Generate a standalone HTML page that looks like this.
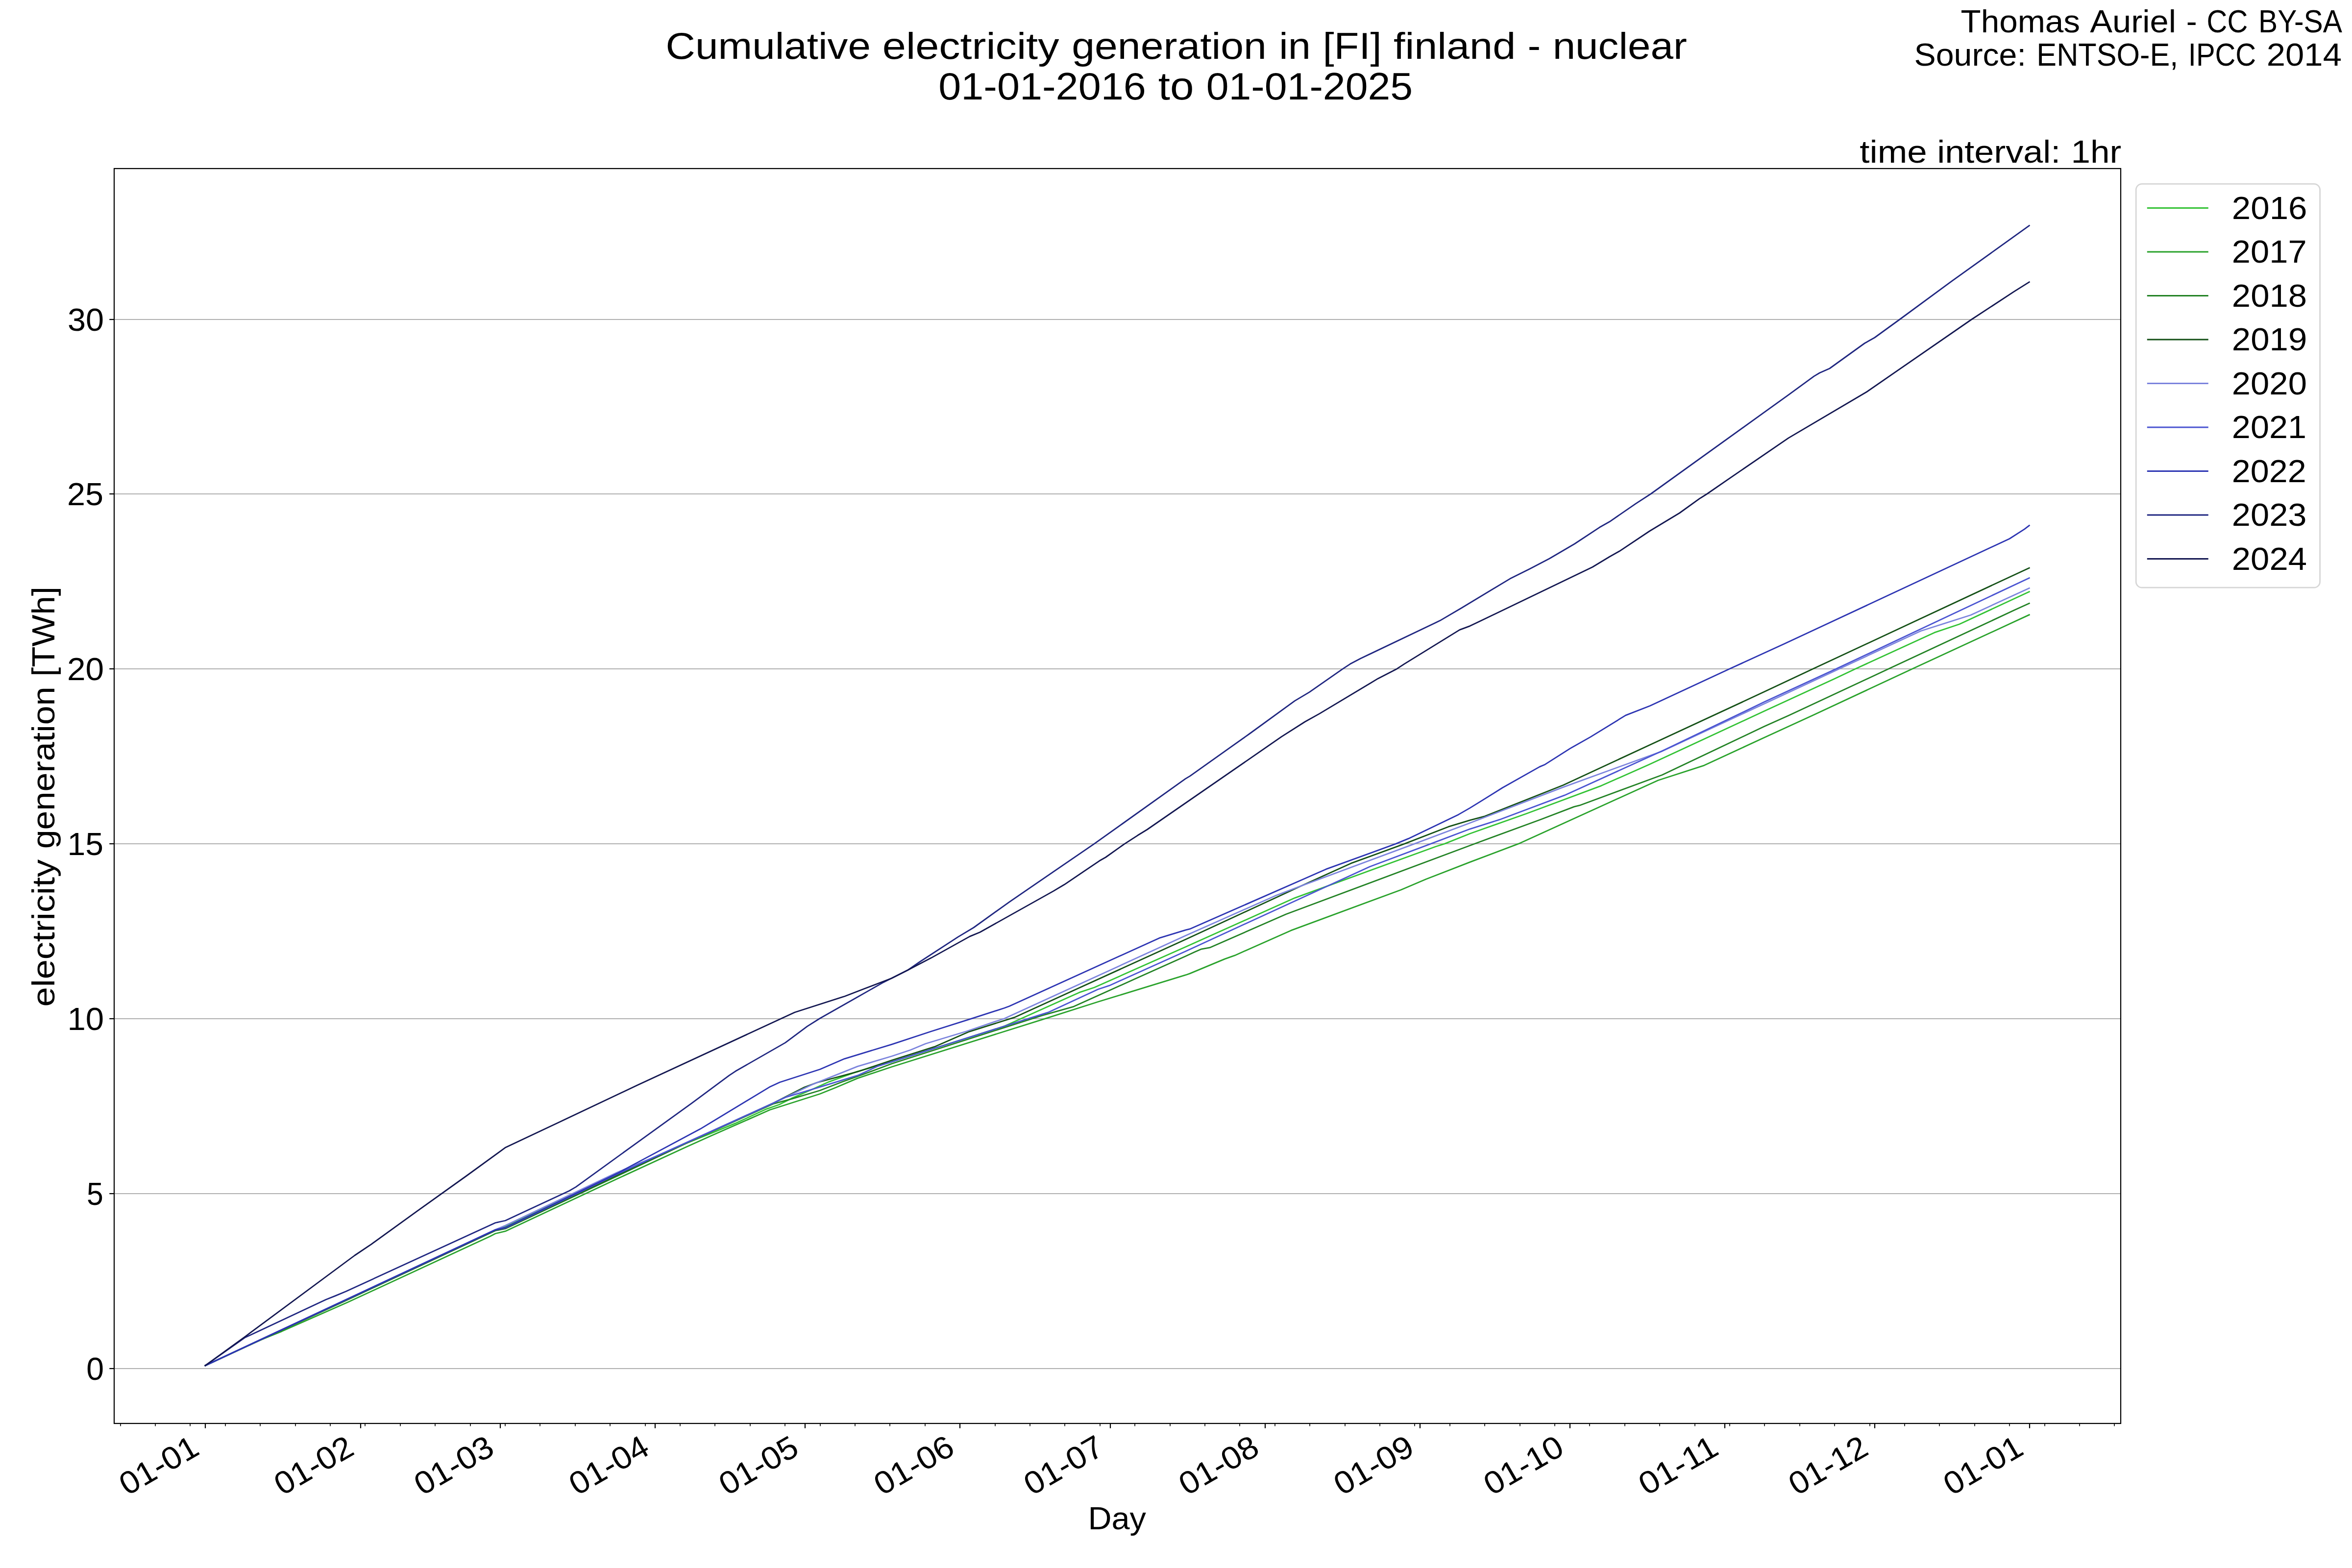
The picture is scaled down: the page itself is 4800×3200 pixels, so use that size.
<!DOCTYPE html>
<html><head><meta charset="utf-8"><title>Cumulative electricity generation in [FI] finland - nuclear</title>
<style>
html,body{margin:0;padding:0;background:#fff;}
body{width:4800px;height:3200px;}
svg{display:block;}
text{font-family:"Liberation Sans",sans-serif;fill:#000;}
</style></head><body>
<svg width="4800" height="3200" viewBox="0 0 4800 3200">
<rect x="0" y="0" width="4800" height="3200" fill="#ffffff"/>
<g stroke="#b0b0b0" stroke-width="2.22" fill="none">
<line x1="233.0" y1="2793.00" x2="4328.0" y2="2793.00"/>
<line x1="233.0" y1="2436.00" x2="4328.0" y2="2436.00"/>
<line x1="233.0" y1="2079.00" x2="4328.0" y2="2079.00"/>
<line x1="233.0" y1="1722.00" x2="4328.0" y2="1722.00"/>
<line x1="233.0" y1="1365.00" x2="4328.0" y2="1365.00"/>
<line x1="233.0" y1="1008.00" x2="4328.0" y2="1008.00"/>
<line x1="233.0" y1="652.00" x2="4328.0" y2="652.00"/>
</g>
<defs><clipPath id="axclip"><rect x="233.0" y="344.0" width="4095.0" height="2561.0"/></clipPath></defs>
<g fill="none" stroke-width="2.78" stroke-linejoin="round" stroke-linecap="square" clip-path="url(#axclip)">
<polyline stroke="#32c234" points="418.9,2786.8 1011.0,2511.0 1031.4,2503.5 1260.0,2394.3 1400.0,2333.5 1450.0,2313.5 1501.0,2292.4 1564.8,2263.1 1590.3,2254.2 1615.8,2241.4 1654.1,2224.8 1692.3,2207.6 1750.0,2186.6 1820.0,2167.0 2049.6,2094.3 2202.7,2025.4 2233.3,2015.2 2420.0,1932.3 2642.3,1832.6 2708.7,1808.4 2930.6,1727.5 2948.5,1721.9 3000.0,1701.2 3115.8,1660.2 3267.8,1603.6 3364.5,1560.8 3600.0,1451.6 3743.9,1385.3 3787.2,1364.8 3948.0,1290.9 3999.0,1273.8 4141.3,1207.6"/>
<polyline stroke="#29a22b" points="418.9,2786.8 530.0,2735.2 575.0,2717.1 710.0,2657.5 1000.0,2523.2 1011.0,2517.5 1031.4,2512.7 1260.0,2405.5 1400.0,2341.1 1450.0,2318.6 1571.2,2265.0 1673.2,2232.5 1705.1,2219.7 1750.0,2200.6 1820.0,2177.2 2133.8,2078.7 2240.9,2044.5 2420.0,1989.7 2428.1,1986.9 2499.5,1957.1 2519.9,1949.9 2634.7,1898.9 2859.2,1816.0 2910.2,1794.3 3000.0,1759.4 3099.2,1721.9 3383.9,1592.5 3477.8,1562.1 3600.0,1505.5 3699.2,1460.0 3903.3,1364.8 4141.3,1254.7"/>
<polyline stroke="#228224" points="418.9,2786.8 540.0,2730.9 700.0,2657.0 1011.0,2511.5 1031.4,2507.4 1260.0,2400.0 1400.0,2333.4 1577.6,2252.9 1615.8,2242.7 1673.2,2225.5 1717.9,2208.3 1750.0,2196.8 1820.0,2170.8 2126.1,2072.6 2189.9,2054.7 2317.4,1997.3 2420.0,1951.2 2438.3,1942.8 2451.0,1937.2 2468.9,1933.9 2624.5,1865.8 3000.0,1725.5 3143.5,1672.7 3212.5,1646.4 3223.6,1643.7 3392.2,1581.5 3600.0,1482.8 3650.8,1460.0 3854.8,1364.8 4111.2,1245.1 4141.3,1231.3"/>
<polyline stroke="#145016" points="418.9,2786.8 1011.0,2510.8 1031.4,2506.8 1260.0,2397.5 1400.0,2332.5 1577.6,2251.6 1641.3,2219.1 1666.8,2209.5 1750.0,2187.2 1820.0,2163.9 1906.7,2136.4 1978.2,2105.3 2070.0,2076.4 2420.0,1917.0 2657.7,1807.1 2757.1,1761.9 2866.8,1721.9 2956.1,1687.2 3000.0,1673.9 3030.1,1665.8 3190.4,1602.2 3600.0,1412.1 3700.5,1364.8 4141.3,1159.0"/>
<polyline stroke="#7b83dd" points="418.9,2786.8 1011.0,2509.5 1031.4,2501.0 1260.0,2392.5 1330.0,2363.5 1400.0,2332.3 1577.6,2251.6 1660.5,2212.1 1750.0,2176.4 1820.0,2155.5 1858.3,2142.8 1888.9,2130.0 1973.1,2104.5 2029.2,2085.4 2049.6,2078.7 2420.0,1909.3 2604.1,1827.5 2657.7,1807.1 2887.2,1721.9 3000.0,1679.5 3190.4,1606.4 3392.2,1533.1 3600.0,1436.4 3754.1,1364.8 3919.9,1287.8 4021.9,1255.2 4141.3,1200.3"/>
<polyline stroke="#4a54d1" points="418.9,2786.8 1011.0,2510.1 1031.4,2506.0 1260.0,2396.0 1400.0,2332.3 1577.6,2251.6 1603.0,2239.5 1666.8,2220.4 1750.0,2194.9 1792.2,2175.6 1820.0,2167.0 2126.1,2070.1 2138.9,2066.2 2240.9,2019.0 2263.9,2011.4 2420.0,1941.2 2708.7,1808.4 2795.4,1768.8 2920.4,1721.9 3000.0,1691.8 3060.5,1672.7 3193.2,1622.9 3392.2,1532.6 3600.0,1432.8 3747.7,1364.8 4141.3,1179.5"/>
<polyline stroke="#2c34b2" points="418.9,2786.8 1011.0,2509.8 1031.4,2505.2 1260.0,2394.6 1291.2,2377.6 1429.0,2304.1 1570.3,2218.6 1591.3,2208.7 1673.6,2182.3 1723.3,2160.8 1820.0,2131.3 1900.0,2105.0 1983.3,2078.7 2049.6,2057.3 2059.8,2053.5 2365.9,1914.4 2420.0,1897.9 2428.1,1895.9 2662.8,1793.1 2706.1,1773.9 2849.0,1721.9 2874.5,1711.4 2976.5,1662.4 3000.0,1648.9 3021.9,1635.4 3066.1,1607.7 3142.1,1564.9 3153.1,1560.2 3204.2,1527.6 3245.7,1504.1 3317.6,1459.9 3367.3,1440.5 3530.3,1364.8 3641.8,1313.8 4101.0,1099.5 4131.6,1079.9 4141.3,1072.5"/>
<polyline stroke="#1f2680" points="418.9,2786.8 499.3,2730.1 512.2,2724.0 665.1,2652.3 684.2,2644.6 706.1,2635.5 1011.0,2495.5 1031.4,2491.0 1053.8,2480.5 1161.8,2430.2 1175.3,2422.4 1300.0,2332.1 1411.5,2251.6 1488.0,2194.9 1500.8,2186.3 1602.8,2127.9 1647.4,2094.7 1673.0,2078.5 1800.5,2006.1 1853.2,1979.5 1877.0,1963.0 1955.2,1912.1 1987.1,1893.0 2060.5,1840.3 2232.7,1722.3 2290.1,1681.5 2419.2,1589.4 2428.8,1583.6 2550.0,1497.5 2642.3,1430.4 2672.1,1412.6 2740.6,1364.9 2755.5,1355.1 2776.4,1344.0 2938.7,1266.6 2981.9,1241.3 3081.7,1181.1 3121.9,1160.9 3162.1,1140.0 3213.3,1110.0 3264.3,1076.3 3284.7,1064.8 3338.3,1027.9 3368.9,1008.0 3598.5,842.9 3650.0,805.9 3702.0,767.9 3713.5,761.0 3733.9,752.0 3805.4,700.5 3825.8,689.0 3876.8,652.0 3982.7,574.2 4141.3,460.4"/>
<polyline stroke="#121650" points="418.9,2786.8 502.0,2726.5 724.0,2562.0 757.0,2539.8 850.0,2472.7 952.3,2399.5 1031.8,2341.7 1150.0,2286.1 1300.0,2215.0 1594.8,2078.5 1621.9,2066.0 1724.0,2033.2 1765.4,2017.3 1819.6,1996.5 1853.2,1979.5 1900.0,1955.1 1979.1,1911.1 1999.9,1902.5 2149.7,1818.6 2172.1,1805.3 2243.8,1756.8 2256.6,1749.5 2294.8,1722.3 2321.9,1704.8 2341.1,1693.0 2615.5,1503.4 2663.2,1473.0 2693.0,1456.4 2812.1,1384.9 2850.9,1364.9 2865.8,1355.1 2978.9,1285.4 2999.8,1277.6 3250.0,1157.3 3284.7,1136.3 3305.1,1124.8 3366.3,1084.0 3427.6,1047.0 3468.4,1017.7 3483.7,1008.0 3527.0,978.1 3650.0,893.9 3809.2,800.0 4023.5,652.0 4110.2,595.2 4141.3,575.6"/>
</g>
<g stroke="#000" fill="none">
<line x1="419.00" y1="2905.0" x2="419.00" y2="2914.72" stroke-width="2.22"/>
<line x1="736.00" y1="2905.0" x2="736.00" y2="2914.72" stroke-width="2.22"/>
<line x1="1021.00" y1="2905.0" x2="1021.00" y2="2914.72" stroke-width="2.22"/>
<line x1="1337.00" y1="2905.0" x2="1337.00" y2="2914.72" stroke-width="2.22"/>
<line x1="1643.00" y1="2905.0" x2="1643.00" y2="2914.72" stroke-width="2.22"/>
<line x1="1959.00" y1="2905.0" x2="1959.00" y2="2914.72" stroke-width="2.22"/>
<line x1="2266.00" y1="2905.0" x2="2266.00" y2="2914.72" stroke-width="2.22"/>
<line x1="2582.00" y1="2905.0" x2="2582.00" y2="2914.72" stroke-width="2.22"/>
<line x1="2898.00" y1="2905.0" x2="2898.00" y2="2914.72" stroke-width="2.22"/>
<line x1="3204.00" y1="2905.0" x2="3204.00" y2="2914.72" stroke-width="2.22"/>
<line x1="3520.00" y1="2905.0" x2="3520.00" y2="2914.72" stroke-width="2.22"/>
<line x1="3826.00" y1="2905.0" x2="3826.00" y2="2914.72" stroke-width="2.22"/>
<line x1="4142.00" y1="2905.0" x2="4142.00" y2="2914.72" stroke-width="2.22"/>
<line x1="246.00" y1="2905.0" x2="246.00" y2="2910.56" stroke-width="1.67"/>
<line x1="317.00" y1="2905.0" x2="317.00" y2="2910.56" stroke-width="1.67"/>
<line x1="388.00" y1="2905.0" x2="388.00" y2="2910.56" stroke-width="1.67"/>
<line x1="460.00" y1="2905.0" x2="460.00" y2="2910.56" stroke-width="1.67"/>
<line x1="531.00" y1="2905.0" x2="531.00" y2="2910.56" stroke-width="1.67"/>
<line x1="603.00" y1="2905.0" x2="603.00" y2="2910.56" stroke-width="1.67"/>
<line x1="674.00" y1="2905.0" x2="674.00" y2="2910.56" stroke-width="1.67"/>
<line x1="745.00" y1="2905.0" x2="745.00" y2="2910.56" stroke-width="1.67"/>
<line x1="817.00" y1="2905.0" x2="817.00" y2="2910.56" stroke-width="1.67"/>
<line x1="888.00" y1="2905.0" x2="888.00" y2="2910.56" stroke-width="1.67"/>
<line x1="960.00" y1="2905.0" x2="960.00" y2="2910.56" stroke-width="1.67"/>
<line x1="1031.00" y1="2905.0" x2="1031.00" y2="2910.56" stroke-width="1.67"/>
<line x1="1102.00" y1="2905.0" x2="1102.00" y2="2910.56" stroke-width="1.67"/>
<line x1="1174.00" y1="2905.0" x2="1174.00" y2="2910.56" stroke-width="1.67"/>
<line x1="1245.00" y1="2905.0" x2="1245.00" y2="2910.56" stroke-width="1.67"/>
<line x1="1317.00" y1="2905.0" x2="1317.00" y2="2910.56" stroke-width="1.67"/>
<line x1="1388.00" y1="2905.0" x2="1388.00" y2="2910.56" stroke-width="1.67"/>
<line x1="1459.00" y1="2905.0" x2="1459.00" y2="2910.56" stroke-width="1.67"/>
<line x1="1531.00" y1="2905.0" x2="1531.00" y2="2910.56" stroke-width="1.67"/>
<line x1="1602.00" y1="2905.0" x2="1602.00" y2="2910.56" stroke-width="1.67"/>
<line x1="1674.00" y1="2905.0" x2="1674.00" y2="2910.56" stroke-width="1.67"/>
<line x1="1745.00" y1="2905.0" x2="1745.00" y2="2910.56" stroke-width="1.67"/>
<line x1="1816.00" y1="2905.0" x2="1816.00" y2="2910.56" stroke-width="1.67"/>
<line x1="1888.00" y1="2905.0" x2="1888.00" y2="2910.56" stroke-width="1.67"/>
<line x1="1959.00" y1="2905.0" x2="1959.00" y2="2910.56" stroke-width="1.67"/>
<line x1="2031.00" y1="2905.0" x2="2031.00" y2="2910.56" stroke-width="1.67"/>
<line x1="2102.00" y1="2905.0" x2="2102.00" y2="2910.56" stroke-width="1.67"/>
<line x1="2173.00" y1="2905.0" x2="2173.00" y2="2910.56" stroke-width="1.67"/>
<line x1="2245.00" y1="2905.0" x2="2245.00" y2="2910.56" stroke-width="1.67"/>
<line x1="2316.00" y1="2905.0" x2="2316.00" y2="2910.56" stroke-width="1.67"/>
<line x1="2388.00" y1="2905.0" x2="2388.00" y2="2910.56" stroke-width="1.67"/>
<line x1="2459.00" y1="2905.0" x2="2459.00" y2="2910.56" stroke-width="1.67"/>
<line x1="2530.00" y1="2905.0" x2="2530.00" y2="2910.56" stroke-width="1.67"/>
<line x1="2602.00" y1="2905.0" x2="2602.00" y2="2910.56" stroke-width="1.67"/>
<line x1="2673.00" y1="2905.0" x2="2673.00" y2="2910.56" stroke-width="1.67"/>
<line x1="2745.00" y1="2905.0" x2="2745.00" y2="2910.56" stroke-width="1.67"/>
<line x1="2816.00" y1="2905.0" x2="2816.00" y2="2910.56" stroke-width="1.67"/>
<line x1="2887.00" y1="2905.0" x2="2887.00" y2="2910.56" stroke-width="1.67"/>
<line x1="2959.00" y1="2905.0" x2="2959.00" y2="2910.56" stroke-width="1.67"/>
<line x1="3030.00" y1="2905.0" x2="3030.00" y2="2910.56" stroke-width="1.67"/>
<line x1="3102.00" y1="2905.0" x2="3102.00" y2="2910.56" stroke-width="1.67"/>
<line x1="3173.00" y1="2905.0" x2="3173.00" y2="2910.56" stroke-width="1.67"/>
<line x1="3244.00" y1="2905.0" x2="3244.00" y2="2910.56" stroke-width="1.67"/>
<line x1="3316.00" y1="2905.0" x2="3316.00" y2="2910.56" stroke-width="1.67"/>
<line x1="3387.00" y1="2905.0" x2="3387.00" y2="2910.56" stroke-width="1.67"/>
<line x1="3459.00" y1="2905.0" x2="3459.00" y2="2910.56" stroke-width="1.67"/>
<line x1="3530.00" y1="2905.0" x2="3530.00" y2="2910.56" stroke-width="1.67"/>
<line x1="3601.00" y1="2905.0" x2="3601.00" y2="2910.56" stroke-width="1.67"/>
<line x1="3673.00" y1="2905.0" x2="3673.00" y2="2910.56" stroke-width="1.67"/>
<line x1="3744.00" y1="2905.0" x2="3744.00" y2="2910.56" stroke-width="1.67"/>
<line x1="3816.00" y1="2905.0" x2="3816.00" y2="2910.56" stroke-width="1.67"/>
<line x1="3887.00" y1="2905.0" x2="3887.00" y2="2910.56" stroke-width="1.67"/>
<line x1="3958.00" y1="2905.0" x2="3958.00" y2="2910.56" stroke-width="1.67"/>
<line x1="4030.00" y1="2905.0" x2="4030.00" y2="2910.56" stroke-width="1.67"/>
<line x1="4101.00" y1="2905.0" x2="4101.00" y2="2910.56" stroke-width="1.67"/>
<line x1="4173.00" y1="2905.0" x2="4173.00" y2="2910.56" stroke-width="1.67"/>
<line x1="4244.00" y1="2905.0" x2="4244.00" y2="2910.56" stroke-width="1.67"/>
<line x1="4315.00" y1="2905.0" x2="4315.00" y2="2910.56" stroke-width="1.67"/>
<line x1="223.28" y1="2793.00" x2="233.0" y2="2793.00" stroke-width="2.22"/>
<line x1="223.28" y1="2436.00" x2="233.0" y2="2436.00" stroke-width="2.22"/>
<line x1="223.28" y1="2079.00" x2="233.0" y2="2079.00" stroke-width="2.22"/>
<line x1="223.28" y1="1722.00" x2="233.0" y2="1722.00" stroke-width="2.22"/>
<line x1="223.28" y1="1365.00" x2="233.0" y2="1365.00" stroke-width="2.22"/>
<line x1="223.28" y1="1008.00" x2="233.0" y2="1008.00" stroke-width="2.22"/>
<line x1="223.28" y1="652.00" x2="233.0" y2="652.00" stroke-width="2.22"/>
</g>
<rect x="233.0" y="344.0" width="4095.0" height="2561.0" fill="none" stroke="#000" stroke-width="2.22" stroke-linejoin="miter"/>
<text transform="translate(174.72,2816.00) translate(1.46,0) scale(1.0543,1.0630)" font-size="61.111">0</text>
<text transform="translate(174.72,2459.00) translate(2.28,0) scale(0.9937,1.0596)" font-size="61.111">5</text>
<text transform="translate(135.84,2102.00) translate(1.56,0) scale(1.0992,1.0630)" font-size="61.111">10</text>
<text transform="translate(135.84,1745.00) translate(1.64,0) scale(1.0814,1.0596)" font-size="61.111">15</text>
<text transform="translate(135.84,1388.00) translate(1.08,0) scale(1.1064,1.0630)" font-size="61.111">20</text>
<text transform="translate(135.84,1031.00) translate(1.13,0) scale(1.0891,1.0630)" font-size="61.111">25</text>
<text transform="translate(135.84,675.00) translate(2.11,0) scale(1.0907,1.0630)" font-size="61.111">30</text>
<text transform="translate(258.72,3053.79) rotate(-30) translate(1.32,0) scale(1.1130,1.0630)" font-size="61.111">01-01</text>
<text transform="translate(574.92,3053.79) rotate(-30) translate(1.32,0) scale(1.1110,1.0630)" font-size="61.111">01-02</text>
<text transform="translate(860.52,3053.79) rotate(-30) translate(1.31,0) scale(1.1160,1.0630)" font-size="61.111">01-03</text>
<text transform="translate(1176.72,3053.79) rotate(-30) translate(1.30,0) scale(1.1193,1.0630)" font-size="61.111">01-04</text>
<text transform="translate(1482.72,3053.79) rotate(-30) translate(1.32,0) scale(1.1118,1.0630)" font-size="61.111">01-05</text>
<text transform="translate(1798.92,3053.79) rotate(-30) translate(1.30,0) scale(1.1228,1.0630)" font-size="61.111">01-06</text>
<text transform="translate(2104.92,3053.79) rotate(-30) translate(1.31,0) scale(1.1167,1.0630)" font-size="61.111">01-07</text>
<text transform="translate(2421.12,3053.79) rotate(-30) translate(1.30,0) scale(1.1204,1.0630)" font-size="61.111">01-08</text>
<text transform="translate(2737.32,3053.79) rotate(-30) translate(1.30,0) scale(1.1214,1.0630)" font-size="61.111">01-09</text>
<text transform="translate(3043.32,3053.79) rotate(-30) translate(1.31,0) scale(1.1190,1.0630)" font-size="61.111">01-10</text>
<text transform="translate(3359.52,3053.79) rotate(-30) translate(1.24,0) scale(1.1473,1.0630)" font-size="61.111">01-11</text>
<text transform="translate(3665.52,3053.79) rotate(-30) translate(1.32,0) scale(1.1110,1.0630)" font-size="61.111">01-12</text>
<text transform="translate(3981.72,3053.79) rotate(-30) translate(1.32,0) scale(1.1130,1.0630)" font-size="61.111">01-01</text>
<text transform="translate(2219.90,3121.30) translate(0.53,0) scale(1.0903,1.0596)" font-size="61.111">Day</text>
<text transform="translate(111.00,2054.75) rotate(-90) translate(0.33,0) scale(1.1799,1.0483)" font-size="61.111">electricity</text>
<text transform="translate(111.00,2054.75) rotate(-90) translate(322.39,0) scale(1.1470,1.0483)" font-size="61.111">generation</text>
<text transform="translate(111.00,2054.75) rotate(-90) translate(674.05,0) scale(1.1263,1.0483)" font-size="61.111">[TWh]</text>
<text transform="translate(1358.60,120.00) translate(-0.08,0) scale(1.1408,1.0483)" font-size="73.333">Cumulative</text>
<text transform="translate(1358.60,120.00) translate(442.26,0) scale(1.1799,1.0483)" font-size="73.333">electricity</text>
<text transform="translate(1358.60,120.00) translate(828.72,0) scale(1.1470,1.0483)" font-size="73.333">generation</text>
<text transform="translate(1358.60,120.00) translate(1251.77,0) scale(1.1312,1.0483)" font-size="73.333">in</text>
<text transform="translate(1358.60,120.00) translate(1340.84,0) scale(1.1358,1.0483)" font-size="73.333">[FI]</text>
<text transform="translate(1358.60,120.00) translate(1485.29,0) scale(1.1537,1.0483)" font-size="73.333">finland</text>
<text transform="translate(1358.60,120.00) translate(1759.21,0) scale(1.0816,1.0500)" font-size="73.333">-</text>
<text transform="translate(1358.60,120.00) translate(1810.03,0) scale(1.1398,1.0483)" font-size="73.333">nuclear</text>
<text transform="translate(1913.70,202.60) translate(1.54,0) scale(1.1293,1.0630)" font-size="73.333">01-01-2016</text>
<text transform="translate(1913.70,202.60) translate(450.09,0) scale(1.1877,1.0867)" font-size="73.333">to</text>
<text transform="translate(1913.70,202.60) translate(547.97,0) scale(1.1239,1.0630)" font-size="73.333">01-01-2025</text>
<text transform="translate(4003.28,66.10) translate(-1.67,0) scale(1.1027,1.0483)" font-size="61.111">Thomas</text>
<text transform="translate(4003.28,66.10) translate(261.98,0) scale(1.1249,1.0483)" font-size="61.111">Auriel</text>
<text transform="translate(4003.28,66.10) translate(458.36,0) scale(1.0816,1.0500)" font-size="61.111">-</text>
<text transform="translate(4003.28,66.10) translate(500.34,0) scale(0.9484,1.0630)" font-size="61.111">CC</text>
<text transform="translate(4003.28,66.10) translate(605.75,0) scale(0.9614,1.0630)" font-size="61.111">BY-SA</text>
<text transform="translate(3905.46,134.00) translate(0.99,0) scale(1.0849,1.0630)" font-size="61.111">Source:</text>
<text transform="translate(3905.46,134.00) translate(250.88,0) scale(1.0011,1.0630)" font-size="61.111">ENTSO-E,</text>
<text transform="translate(3905.46,134.00) translate(560.33,0) scale(0.9482,1.0630)" font-size="61.111">IPCC</text>
<text transform="translate(3905.46,134.00) translate(720.33,0) scale(1.1268,1.0630)" font-size="61.111">2014</text>
<text transform="translate(3794.77,331.50) translate(0.50,0) scale(1.1918,1.0483)" font-size="61.111">time</text>
<text transform="translate(3794.77,331.50) translate(158.49,0) scale(1.1779,1.0483)" font-size="61.111">interval:</text>
<text transform="translate(3794.77,331.50) translate(431.76,0) scale(1.1626,1.0483)" font-size="61.111">1hr</text>
<rect x="4359.2" y="375.3" width="375.4" height="823.9" rx="12.2" ry="12.2" fill="#ffffff" fill-opacity="0.8" stroke="#cccccc" stroke-opacity="0.8" stroke-width="2.78"/>
<g fill="none" stroke-width="2.78" stroke-linecap="square">
<line x1="4383.2" y1="424.50" x2="4505.4" y2="424.50" stroke="#32c234"/>
<line x1="4383.2" y1="514.00" x2="4505.4" y2="514.00" stroke="#29a22b"/>
<line x1="4383.2" y1="603.50" x2="4505.4" y2="603.50" stroke="#228224"/>
<line x1="4383.2" y1="693.00" x2="4505.4" y2="693.00" stroke="#145016"/>
<line x1="4383.2" y1="782.50" x2="4505.4" y2="782.50" stroke="#7b83dd"/>
<line x1="4383.2" y1="872.00" x2="4505.4" y2="872.00" stroke="#4a54d1"/>
<line x1="4383.2" y1="961.50" x2="4505.4" y2="961.50" stroke="#2c34b2"/>
<line x1="4383.2" y1="1051.00" x2="4505.4" y2="1051.00" stroke="#1f2680"/>
<line x1="4383.2" y1="1140.50" x2="4505.4" y2="1140.50" stroke="#121650"/>
</g>
<text transform="translate(4553.80,446.80) translate(1.01,0) scale(1.1309,1.0630)" font-size="61.111">2016</text>
<text transform="translate(4553.80,536.30) translate(1.03,0) scale(1.1238,1.0630)" font-size="61.111">2017</text>
<text transform="translate(4553.80,625.80) translate(1.01,0) scale(1.1281,1.0630)" font-size="61.111">2018</text>
<text transform="translate(4553.80,715.30) translate(1.01,0) scale(1.1293,1.0630)" font-size="61.111">2019</text>
<text transform="translate(4553.80,804.80) translate(1.02,0) scale(1.1264,1.0630)" font-size="61.111">2020</text>
<text transform="translate(4553.80,894.30) translate(1.04,0) scale(1.1195,1.0630)" font-size="61.111">2021</text>
<text transform="translate(4553.80,983.80) translate(1.05,0) scale(1.1172,1.0630)" font-size="61.111">2022</text>
<text transform="translate(4553.80,1073.30) translate(1.03,0) scale(1.1229,1.0630)" font-size="61.111">2023</text>
<text transform="translate(4553.80,1162.80) translate(1.02,0) scale(1.1268,1.0630)" font-size="61.111">2024</text>
</svg></body></html>
